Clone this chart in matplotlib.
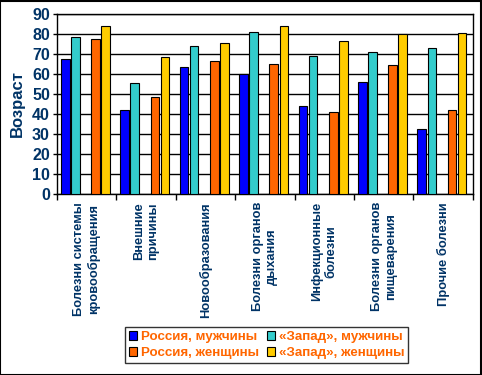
import matplotlib.pyplot as plt
import matplotlib.patches as mpatches
import numpy as np

plt.rcParams['font.family'] = ['Liberation Sans', 'DejaVu Sans']
plt.rcParams['font.weight'] = 'bold'

# categories (causes of death)
categories = ['Болезни системы\nкровообращения', 'Внешние\nпричины', 'Новообразования',
              'Болезни органов\nдыхания', 'Инфекционные\nболезни', 'Болезни органов\nпищеварения',
              'Прочие болезни']
series_names = ['Россия, мужчины', 'Россия, женщины', '«Запад», мужчины', '«Запад», женщины']

russia_men = [67.5, 42, 63.5, 59.8, 44, 56, 32.5]
west_men = [78.5, 55.5, 74, 81, 69, 71, 73]
russia_women = [77.5, 48.5, 66.5, 65, 41, 64.5, 42]
west_women = [84, 68.5, 75.5, 84, 76.5, 80, 80.5]

colors = ['#0000FF', '#FF6600', '#33CCCC', '#FFCC00']
navy = '#003366'

fig = plt.figure(figsize=(4.82, 3.75), dpi=100)
ax = fig.add_axes([0.118, 0.4827, 0.863, 0.48])

x = np.arange(len(categories))
slot = 0.17
bw = 0.145
# slot order: R men, W men, (blank), R women, W women
offsets = [-2, 1, -1, 2]
data = [russia_men, russia_women, west_men, west_women]
handles = []
for vals, off, col, name in zip(data, offsets, colors, series_names):
    b = ax.bar(x + off * slot - 0.02, vals, bw, color=col, edgecolor='black', linewidth=0.8,
               label=name, zorder=3)
    handles.append(b)

ax.set_xlim(-0.5, len(categories) - 0.5)
ax.set_ylim(0, 90)
ax.set_yticks(range(0, 91, 10))
ax.yaxis.grid(True, color='black', linewidth=1)
ax.set_axisbelow(True)
for s in ax.spines.values():
    s.set_linewidth(1)
ax.tick_params(axis='y', colors='black', labelcolor=navy, labelsize=11.5, length=3, width=1, pad=2)
ax.set_xticks(np.arange(-0.5, len(categories)), minor=False)
ax.set_xticklabels([])
ax.tick_params(axis='x', length=4, width=1)
for lab in ax.get_yticklabels():
    lab.set_fontweight('bold')

for i, c in enumerate(categories):
    ax.text(i, -4, c, rotation=90, ha='center', va='top', multialignment='center',
            color=navy, fontsize=9.3, fontweight='bold', transform=ax.transData,
            linespacing=1.25)

ax.set_ylabel('Возраст', color=navy, fontsize=12, fontweight='bold', labelpad=5)

leg = fig.legend(handles=handles, labels=series_names, ncol=2, loc='center',
                 bbox_to_anchor=(0.553, 0.08), frameon=True, fancybox=False,
                 edgecolor='black', fontsize=9.6, handlelength=0.6, handleheight=0.6,
                 handletextpad=0.3, columnspacing=0.6, labelspacing=0.3, borderpad=0.3,
                 borderaxespad=0)
leg.get_frame().set_linewidth(1)
for t in leg.get_texts():
    t.set_color('#FF6600')
    t.set_fontweight('bold')

fig.patches.append(mpatches.Rectangle((0.001, 0.001), 0.997, 0.996, transform=fig.transFigure,
                                      fill=False, edgecolor='black', linewidth=1.5))

fig.savefig('out.png', dpi=100)
